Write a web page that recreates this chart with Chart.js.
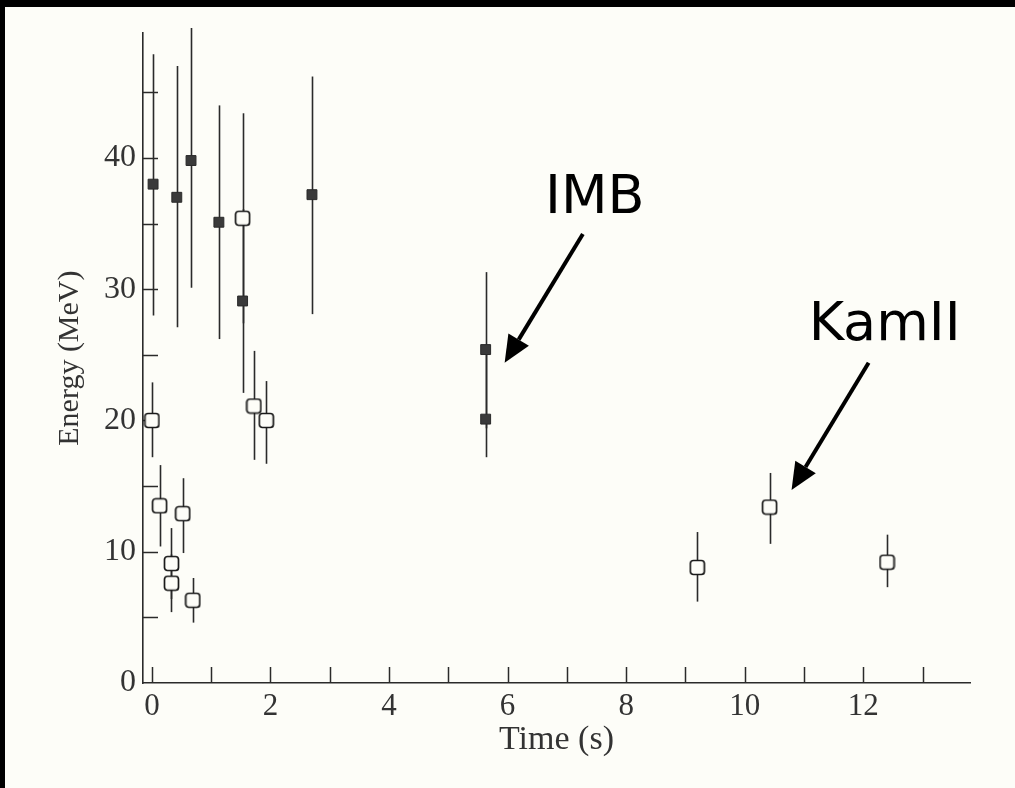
<!DOCTYPE html>
<html><head><meta charset="utf-8">
<script src="https://cdn.jsdelivr.net/npm/chart.js@4"></script>
<style>
html,body{margin:0;padding:0;background:#000;width:1015px;height:788px;overflow:hidden;}
#wrap{position:absolute;left:5px;top:7px;width:1010px;height:781px;background:#fdfdf8;}
canvas{display:block;}
</style></head><body><div id="wrap"><canvas id="c" width="1010" height="781"></canvas></div>
<script>
// IMB events (filled squares)
const imbTime   = [0.02, 0.42, 0.66, 1.13, 1.53, 2.70, 5.63, 5.63];
const imbEnergy = [38.0, 37.0, 39.8, 35.1, 29.1, 37.2, 25.4, 20.1];
const imbLow    = [28.0, 27.1, 30.1, 26.2, 22.1, 28.1, 19.4, 17.2];
const imbHigh   = [47.9, 47.0, 49.9, 44.0, 36.1, 46.2, 31.3, 25.1];
// Kamiokande II events (open squares)
const kamTime   = [0.00, 0.13, 0.33, 0.33, 0.52, 0.69, 1.53, 1.72, 1.93, 9.20, 10.42, 12.40];
const kamEnergy = [20.0, 13.5, 9.1, 7.6, 12.9, 6.3, 35.4, 21.1, 20.0, 8.8, 13.4, 9.2];
const kamLow    = [17.2, 10.4, 6.4, 5.4, 9.9, 4.6, 27.4, 17.0, 16.7, 6.2, 10.6, 7.3];
const kamHigh   = [22.9, 16.6, 11.8, 9.8, 15.6, 8.0, 43.4, 25.3, 23.0, 11.5, 16.0, 11.3];
// axis ticks
const xTickLabels = [0, 2, 4, 6, 8, 10, 12];
const yTickLabels = [0, 10, 20, 30, 40];
// annotations: label, text anchor (time, energy), arrow from, arrow to
const noteLabels = ['IMB', 'KamII'];
const noteText   = [[7.47, 35.8], [12.36, 26.1]];
const noteFrom   = [[7.27, 34.2], [12.09, 24.4]];
const noteTo     = [[5.95, 24.4], [10.79, 14.7]];

const INK = '#2a2a2a';
const PAPER = '#fdfdf8';
const SERIF = '"Liberation Serif", "Times New Roman", serif';

// open square marker with slightly rounded corners
function openSquare() {
  const c = document.createElement('canvas');
  c.width = 17; c.height = 17;
  const g = c.getContext('2d');
  g.fillStyle = PAPER;
  g.strokeStyle = '#1a1a1a';
  g.lineWidth = 1.7;
  g.beginPath();
  g.roundRect(1.5, 1.5, 14, 14, 3);
  g.fill();
  g.stroke();
  return c;
}

const errorBars = {
  id: 'errorBars',
  beforeDatasetsDraw(chart) {
    const {ctx, scales: {x, y}} = chart;
    const sets = [[imbTime, imbLow, imbHigh], [kamTime, kamLow, kamHigh]];
    ctx.save();
    ctx.strokeStyle = INK;
    ctx.lineWidth = 1.6;
    sets.forEach(([t, lo, hi]) => {
      t.forEach((v, i) => {
        const px = Math.round(x.getPixelForValue(v)) + 0.5;
        ctx.beginPath();
        ctx.moveTo(px, y.getPixelForValue(lo[i]));
        ctx.lineTo(px, y.getPixelForValue(hi[i]));
        ctx.stroke();
      });
    });
    ctx.restore();
  }
};

const innerTicks = {
  id: 'innerTicks',
  beforeDatasetsDraw(chart) {
    const {ctx, chartArea, scales: {x, y}} = chart;
    ctx.save();
    ctx.strokeStyle = INK;
    ctx.lineWidth = 1.5;
    x.ticks.forEach(t => {
      const px = Math.round(x.getPixelForValue(t.value)) + 0.5;
      ctx.beginPath();
      ctx.moveTo(px, chartArea.bottom);
      ctx.lineTo(px, chartArea.bottom - 16);
      ctx.stroke();
    });
    y.ticks.forEach(t => {
      if (t.value === 0) return;
      const py = Math.round(y.getPixelForValue(t.value)) + 0.5;
      ctx.beginPath();
      ctx.moveTo(chartArea.left, py);
      ctx.lineTo(chartArea.left + 15, py);
      ctx.stroke();
    });
    ctx.restore();
  }
};

const notes = {
  id: 'notes',
  afterDraw(chart) {
    const {ctx, scales: {x, y}} = chart;
    ctx.save();
    ctx.fillStyle = '#000';
    ctx.strokeStyle = '#000';
    ctx.font = '54px "Comic Sans MS", "DejaVu Sans", sans-serif';
    ctx.textAlign = 'center';
    ctx.textBaseline = 'alphabetic';
    noteLabels.forEach((txt, i) => {
      ctx.fillText(txt, x.getPixelForValue(noteText[i][0]), y.getPixelForValue(noteText[i][1]));
      const x1 = x.getPixelForValue(noteFrom[i][0]), y1 = y.getPixelForValue(noteFrom[i][1]);
      const x2 = x.getPixelForValue(noteTo[i][0]), y2 = y.getPixelForValue(noteTo[i][1]);
      const ang = Math.atan2(y2 - y1, x2 - x1);
      const hl = 27, hw = 12;
      const bx = x2 - hl * Math.cos(ang), by = y2 - hl * Math.sin(ang);
      ctx.lineWidth = 4;
      ctx.beginPath();
      ctx.moveTo(x1, y1);
      ctx.lineTo(bx, by);
      ctx.stroke();
      ctx.beginPath();
      ctx.moveTo(x2, y2);
      ctx.lineTo(bx + hw * Math.sin(ang), by - hw * Math.cos(ang));
      ctx.lineTo(bx - hw * Math.sin(ang), by + hw * Math.cos(ang));
      ctx.closePath();
      ctx.fill();
    });
    ctx.restore();
  }
};

new Chart(document.getElementById('c'), {
  type: 'scatter',
  data: {
    datasets: [
      {
        label: 'KamII',
        data: kamTime.map((t, i) => ({x: t, y: kamEnergy[i]})),
        pointStyle: openSquare(),
        pointRadius: 8.5
      },
      {
        label: 'IMB',
        data: imbTime.map((t, i) => ({x: t, y: imbEnergy[i]})),
        pointStyle: 'rect',
        pointRadius: 7,
        backgroundColor: '#3a3a3a',
        borderColor: '#2a2a2a',
        borderWidth: 1
      }
    ]
  },
  options: {
    responsive: false,
    animation: false,
    devicePixelRatio: 1,
    layout: {padding: {left: 0, right: 45, top: 25, bottom: 0}},
    plugins: {legend: {display: false}, tooltip: {enabled: false}},
    scales: {
      x: {
        type: 'linear',
        min: -0.15,
        max: 13.8,
        afterFit(s) { s.height = 105; },
        grid: {display: false, drawTicks: false},
        border: {display: true, color: INK, width: 1.6},
        ticks: {
          stepSize: 1,
          includeBounds: false,
          autoSkip: false,
          maxRotation: 0,
          padding: 5,
          color: '#333',
          font: {family: SERIF, size: 31},
          callback: v => xTickLabels.includes(v) ? String(v) : ''
        },
        title: {display: true, text: 'Time (s)', color: '#333',
          font: {family: SERIF, size: 34}, padding: {top: 0, bottom: 28}}
      },
      y: {
        min: 0,
        max: 49.5,
        afterFit(s) { s.width = 138; },
        grid: {display: false, drawTicks: false},
        border: {display: true, color: INK, width: 1.6},
        ticks: {
          stepSize: 5,
          includeBounds: false,
          autoSkip: false,
          padding: 7,
          color: '#333',
          font: {family: SERIF, size: 32},
          callback: v => yTickLabels.includes(v) ? String(v) : ''
        },
        title: {display: true, text: 'Energy (MeV)', color: '#333',
          font: {family: SERIF, size: 30}, padding: {top: 47, bottom: 0}}
      }
    }
  },
  plugins: [errorBars, innerTicks, notes]
});
</script>
</body></html>
